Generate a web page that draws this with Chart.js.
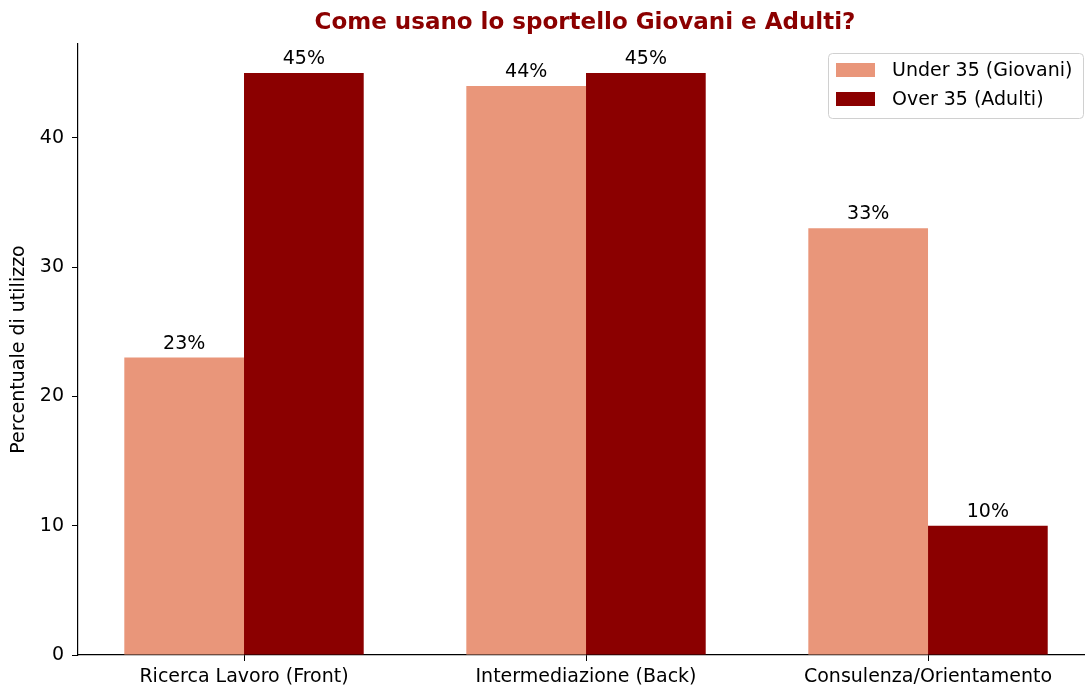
<!DOCTYPE html>
<html>
<head>
<meta charset="utf-8">
<script src="https://cdn.jsdelivr.net/npm/chart.js@4/dist/chart.umd.min.js"></script>
<style>
  html, body { margin: 0; padding: 0; background: #fff; overflow: hidden; }
</style>
</head>
<body>
<canvas id="usageChart" width="1085" height="688"></canvas>
<script>
// Dati
const categories = ["Ricerca Lavoro (Front)", "Intermediazione (Back)", "Consulenza/Orientamento"];
const giovani = [23, 44, 33];
const adulti = [45, 45, 10];
const seriesLabels = ["Under 35 (Giovani)", "Over 35 (Adulti)"];
const yTicks = [0, 10, 20, 30, 40];

const FONT = "'DejaVu Sans', sans-serif";

// etichette % sopra le barre
const valueLabels = {
    id: "valueLabels",
    afterDatasetsDraw(chart) {
        const ctx = chart.ctx;
        ctx.save();
        ctx.font = "19px " + FONT;
        ctx.fillStyle = "#000";
        ctx.textAlign = "center";
        ctx.textBaseline = "alphabetic";
        chart.data.datasets.forEach((ds, i) => {
            chart.getDatasetMeta(i).data.forEach((bar, j) => {
                ctx.fillText(ds.data[j].y + "%", bar.x, bar.y - 9);
            });
        });
        ctx.restore();
    }
};

// titolo + legenda disegnati a mano
const decorations = {
    id: "decorations",
    afterDraw(chart) {
        const ctx = chart.ctx;
        ctx.save();
        ctx.font = "bold 23px " + FONT;
        ctx.fillStyle = "#8B0000";
        ctx.textAlign = "center";
        ctx.textBaseline = "middle";
        ctx.fillText("Come usano lo sportello Giovani e Adulti?", 585, 23);

        // legenda
        const x = 828.5, y = 53.5, w = 255, h = 65;
        ctx.beginPath();
        ctx.roundRect(x, y, w, h, 4);
        ctx.fillStyle = "rgba(255,255,255,0.8)";
        ctx.fill();
        ctx.strokeStyle = "#d0d0d0";
        ctx.lineWidth = 1;
        ctx.stroke();
        ctx.font = "19px " + FONT;
        ctx.textAlign = "left";
        chart.data.datasets.forEach((ds, i) => {
            const cy = 70 + i * 29;
            ctx.fillStyle = ds.backgroundColor;
            ctx.fillRect(836, cy - 7, 39, 14);
            ctx.fillStyle = "#000";
            ctx.fillText(ds.label, 892, cy + 1);
        });
        ctx.restore();
    }
};

new Chart(document.getElementById("usageChart"), {
    type: "bar",
    data: {
        datasets: [
            { label: seriesLabels[0], data: giovani.map((v, i) => ({ x: i, y: v })), backgroundColor: "#E9967A" },
            { label: seriesLabels[1], data: adulti.map((v, i) => ({ x: i, y: v })), backgroundColor: "#8B0000" }
        ]
    },
    options: {
        responsive: false,
        animation: false,
        layout: { padding: { top: 44, right: 0, left: 0, bottom: 0 } },
        datasets: { bar: { categoryPercentage: 0.7, barPercentage: 1.0 } },
        plugins: {
            legend: { display: false },
            tooltip: { enabled: false },
            title: { display: false }
        },
        scales: {
            x: {
                type: "linear",
                offset: false,
                min: -0.4854,
                max: 2.459,
                afterBuildTicks(scale) { scale.ticks = categories.map((c, i) => ({ value: i })); },
                afterFit(scale) { scale.height = 33; },
                grid: { display: true, drawOnChartArea: false, offset: false, tickLength: 6, color: "#000" },
                border: { display: true, color: "#000", width: 1.2 },
                ticks: {
                    color: "#000", font: { family: FONT, size: 19 }, padding: 5, maxRotation: 0,
                    callback: v => categories[v]
                }
            },
            y: {
                min: 0,
                max: 47.25,
                afterBuildTicks(scale) { scale.ticks = yTicks.map(v => ({ value: v })); },
                afterFit(scale) { scale.width = 78; },
                grid: { display: true, drawOnChartArea: false, tickLength: 6, color: "#000" },
                border: { display: true, color: "#000", width: 1.2 },
                ticks: { color: "#000", font: { family: FONT, size: 19 }, padding: 8 },
                title: { display: true, text: "Percentuale di utilizzo", color: "#000", font: { family: FONT, size: 19 }, padding: { top: 8, bottom: 0 } }
            }
        }
    },
    plugins: [valueLabels, decorations]
});
</script>
</body>
</html>
